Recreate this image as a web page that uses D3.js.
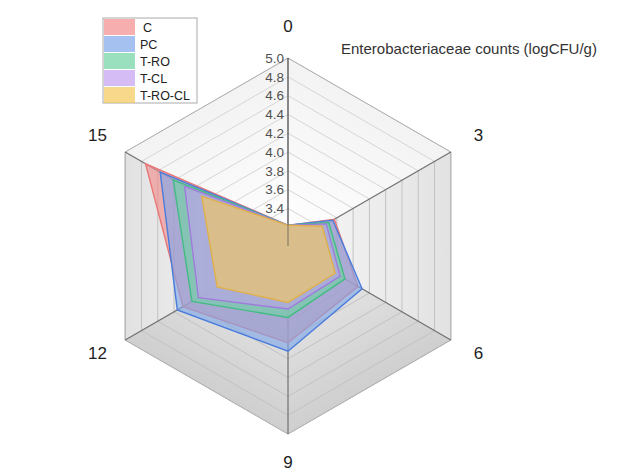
<!DOCTYPE html>
<html>
<head>
<meta charset="utf-8">
<script src="https://cdn.jsdelivr.net/npm/d3@7"></script>
<style>
  html, body { margin: 0; padding: 0; background: #fff; }
  svg { display: block; font-family: "Liberation Sans", Arial, sans-serif; }
</style>
</head>
<body>
<div id="chart"></div>
<script>
// storage days (axes, clockwise from top)
const days = ['0', '3', '6', '9', '12', '15'];
const groups = ['C', 'PC', 'T-RO', 'T-CL', 'T-RO-CL'];
// logCFU/g, one value per day
const valuesC = [3.22, 3.57, 3.86, 4.03, 4.29, 4.75];
const valuesPC = [3.22, 3.55, 3.91, 4.12, 4.36, 4.57];
const valuesTRO = [3.22, 3.50, 3.70, 3.76, 4.18, 4.41];
const valuesTCL = [3.22, 3.47, 3.64, 3.67, 4.10, 4.27];
const valuesTROCL = [3.22, 3.42, 3.58, 3.60, 3.87, 4.06];
const tickValues = [3.4, 3.6, 3.8, 4.0, 4.2, 4.4, 4.6, 4.8, 5.0];
const ringValues = [3.2, 3.4, 3.6, 3.8, 4.0, 4.2, 4.4, 4.6, 4.8, 5.0];
const titleText = 'Enterobacteriaceae counts (logCFU/g)';

const fills = ['#f28b8b', '#7ea6ea', '#6fd3a3', '#c3a0ef', '#f5c85a'];
const strokes = ['#e87878', '#4a7cdb', '#45bb84', '#a07bdc', '#e0b04a'];

const width = 621;
const height = 474;
const cx = 288;
const cy = 246;
const R = 188;

const series = [valuesC, valuesPC, valuesTRO, valuesTCL, valuesTROCL].map((values, i) => ({
  name: groups[i],
  values
}));

const svg = d3.select('#chart').append('svg')
  .attr('width', width)
  .attr('height', height);

const rScale = d3.scaleLinear().domain([3.0, 5.0]).range([0, R]);
const angle = d3.scaleBand().domain(days).range([0, 2 * Math.PI]).align(0).paddingInner(0).paddingOuter(0);

function pt(day, v) {
  const a = angle(day);
  const r = rScale(v);
  return [cx + r * Math.sin(a), cy - r * Math.cos(a)];
}

// 3D-looking faces: one gradient per sector
const faceStops = [
  ['#ffffff', '#f3f3f3'],
  ['#f8f8f8', '#e2e2e2'],
  ['#eeeeee', '#cfcfcf'],
  ['#eeeeee', '#cfcfcf'],
  ['#f8f8f8', '#e2e2e2'],
  ['#ffffff', '#f3f3f3']
];
const defs = svg.append('defs');
const bg = svg.append('g').attr('class', 'faces');

days.forEach((d, i) => {
  const next = days[(i + 1) % days.length];
  const p1 = pt(d, 5.0);
  const p2 = pt(next, 5.0);
  const mid = [(p1[0] + p2[0]) / 2, (p1[1] + p2[1]) / 2];
  const grad = defs.append('linearGradient')
    .attr('id', `face-${i}`)
    .attr('gradientUnits', 'userSpaceOnUse')
    .attr('x1', cx).attr('y1', cy)
    .attr('x2', mid[0]).attr('y2', mid[1]);
  grad.append('stop').attr('offset', '0%').attr('stop-color', faceStops[i][0]);
  grad.append('stop').attr('offset', '100%').attr('stop-color', faceStops[i][1]);

  bg.append('path')
    .attr('d', `M${cx},${cy}L${p1}L${p2}Z`)
    .attr('fill', `url(#face-${i})`);

  // ring segments inside this face
  ringValues.forEach(v => {
    const a = pt(d, v);
    const b = pt(next, v);
    bg.append('line')
      .attr('x1', a[0]).attr('y1', a[1])
      .attr('x2', b[0]).attr('y2', b[1])
      .attr('stroke', i === 0 || i === 5 ? '#d6d6d6' : '#c2c2c2')
      .attr('stroke-width', 1);
  });
});

// outer outline
bg.append('path')
  .attr('d', d3.line()(days.map(d => pt(d, 5.0))) + 'Z')
  .attr('fill', 'none')
  .attr('stroke', '#b0b0b0')
  .attr('stroke-width', 1);

// axes
const axes = svg.append('g').attr('class', 'axes');
days.forEach(d => {
  const end = pt(d, 5.0);
  axes.append('line')
    .attr('x1', cx).attr('y1', cy)
    .attr('x2', end[0]).attr('y2', end[1])
    .attr('stroke', '#707070')
    .attr('stroke-width', 1.2);
});

// data polygons
const radarLine = d3.line().curve(d3.curveLinearClosed);
svg.append('g').attr('class', 'series')
  .selectAll('path')
  .data(series)
  .join('path')
  .attr('d', s => radarLine(s.values.map((v, j) => pt(days[j], v))))
  .attr('fill', (s, i) => fills[i])
  .attr('fill-opacity', 0.62)
  .attr('stroke', (s, i) => strokes[i])
  .attr('stroke-width', 1.4)
  .attr('stroke-linejoin', 'miter');

// axis 0 drawn again over the data, with its ticks
const topEnd = pt('0', 5.0);
svg.append('line')
  .attr('x1', cx).attr('y1', cy)
  .attr('x2', topEnd[0]).attr('y2', topEnd[1])
  .attr('stroke', '#555')
  .attr('stroke-width', 1.2)
  .attr('stroke-opacity', 0.6);

svg.append('g').attr('class', 'ticks')
  .selectAll('text')
  .data(tickValues)
  .join('text')
  .attr('x', cx - 4)
  .attr('y', v => pt('0', v)[1])
  .attr('dy', '0.36em')
  .attr('text-anchor', 'end')
  .attr('font-size', 13.5)
  .attr('fill', '#505050')
  .text(d3.format('.1f'));

// day labels
svg.append('g').attr('class', 'day-labels')
  .selectAll('text')
  .data(days)
  .join('text')
  .attr('x', d => cx + (R + 32) * Math.sin(angle(d)))
  .attr('y', d => cy - 2 - (R + 30) * Math.cos(angle(d)))
  .attr('dy', '0.36em')
  .attr('text-anchor', 'middle')
  .attr('font-size', 17)
  .attr('fill', '#1e1e1e')
  .text(d => d);

svg.append('text')
  .attr('x', 341)
  .attr('y', 54)
  .attr('font-size', 15)
  .attr('fill', '#333')
  .text(titleText);

// legend
const legend = svg.append('g').attr('transform', 'translate(103,18)');
const rowH = 17;
legend.append('rect')
  .attr('width', 94)
  .attr('height', rowH * groups.length)
  .attr('fill', '#fff')
  .attr('stroke', '#aaa');
groups.forEach((name, i) => {
  legend.append('rect')
    .attr('x', 1)
    .attr('y', i * rowH + 1)
    .attr('width', 31)
    .attr('height', rowH - 1)
    .attr('fill', fills[i])
    .attr('fill-opacity', 0.7);
  legend.append('text')
    .attr('x', name === 'C' ? 40 : 37)
    .attr('y', i * rowH + rowH / 2 + 1)
    .attr('dy', '0.36em')
    .attr('font-size', 12.5)
    .attr('fill', '#222')
    .text(name);
});
</script>
</body>
</html>
